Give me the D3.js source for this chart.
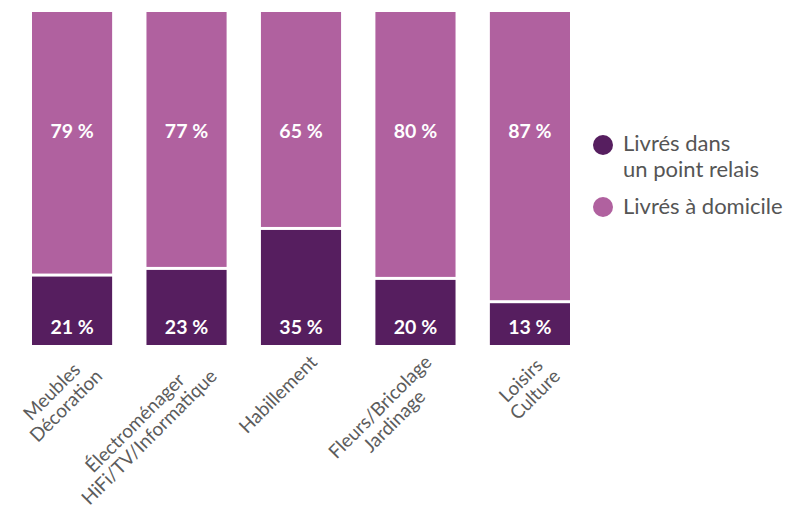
<!DOCTYPE html>
<html>
<head>
<meta charset="utf-8">
<script src="https://cdn.jsdelivr.net/npm/d3@7"></script>
<style>
  html, body { margin: 0; padding: 0; background: #fff; }
  svg { display: block; }
</style>
</head>
<body>
<svg id="chart" width="795" height="511"></svg>
<script>
// Product categories (each entry = the lines of its axis label)
const categories = [
  ["Meubles", "Décoration"],
  ["Électroménager", "HiFi/TV/Informatique"],
  ["Habillement"],
  ["Fleurs/Bricolage", "Jardinage"],
  ["Loisirs", "Culture"]
];
// Share of parcels delivered to a pickup point (%)
const relais = [21, 23, 35, 20, 13];
// Share of parcels delivered at home (%)
const domicile = [79, 77, 65, 80, 87];
// Legend entries
const seriesLabels = [
  ["Livrés dans", "un point relais"],
  ["Livrés à domicile"]
];
const colors = ["#561e5f", "#b0619f"];

const svg = d3.select("#chart");
const keys = categories.map(c => c.join(" "));
const fontFamily = "Lato, 'Source Sans Pro', sans-serif";

const x = d3.scaleBand()
  .domain(keys)
  .range([32, 570])
  .paddingInner(0.3)
  .paddingOuter(0);

const y = d3.scaleLinear().domain([0, 100]).range([345, 12]);

const gap = 1.5; // half of the white seam between the two segments

const rows = keys.map((k, i) => ({ key: k, lines: categories[i], relais: relais[i], domicile: domicile[i] }));

// bottom segment: pickup point
svg.append("g").selectAll("rect")
  .data(rows).join("rect")
  .attr("x", d => x(d.key))
  .attr("width", x.bandwidth())
  .attr("y", d => y(d.relais) + gap)
  .attr("height", d => y(0) - y(d.relais) - gap)
  .attr("fill", colors[0]);

// top segment: home delivery
svg.append("g").selectAll("rect")
  .data(rows).join("rect")
  .attr("x", d => x(d.key))
  .attr("width", x.bandwidth())
  .attr("y", d => y(d.relais + d.domicile))
  .attr("height", d => y(d.relais) - y(d.relais + d.domicile) - gap)
  .attr("fill", colors[1]);

// value labels
function valueLabels(yPos, accessor) {
  svg.append("g").selectAll("text")
    .data(rows).join("text")
    .attr("x", d => x(d.key) + x.bandwidth() / 2)
    .attr("y", yPos)
    .attr("text-anchor", "middle")
    .attr("font-family", fontFamily)
    .attr("font-size", 19.5)
    .attr("font-weight", 700)
    .attr("fill", "#fff")
    .text(d => accessor(d) + " %");
}
valueLabels(138, d => d.domicile);
valueLabels(334, d => d.relais);

// rotated category labels, lines centred, block right edge at the tick
const lh = 20;
const catG = svg.append("g");
rows.forEach(d => {
  const g = catG.append("g");
  const texts = d.lines.map((line, i) => g.append("text")
    .attr("font-family", fontFamily)
    .attr("font-size", 19)
    .attr("fill", "#5c5c5c")
    .attr("text-anchor", "middle")
    .attr("y", lh * (i + 0.8))
    .text(line));
  const w = d3.max(texts, t => t.node().getComputedTextLength());
  texts.forEach(t => t.attr("x", -w / 2));
  const cx = x(d.key) + x.bandwidth() / 2 + 6;
  g.attr("transform", `translate(${cx},352) rotate(-45)`);
});

// legend
const legend = svg.append("g");
const legendRows = [{ cy: 145, base: 151 }, { cy: 207, base: 214 }];
seriesLabels.forEach((lines, i) => {
  legend.append("circle")
    .attr("cx", 603).attr("cy", legendRows[i].cy).attr("r", 10)
    .attr("fill", colors[i]);
  lines.forEach((line, j) => {
    legend.append("text")
      .attr("x", 623)
      .attr("y", legendRows[i].base + j * 26)
      .attr("font-family", fontFamily)
      .attr("font-size", 22)
      .attr("fill", "#555")
      .text(line);
  });
});
</script>
</body>
</html>
